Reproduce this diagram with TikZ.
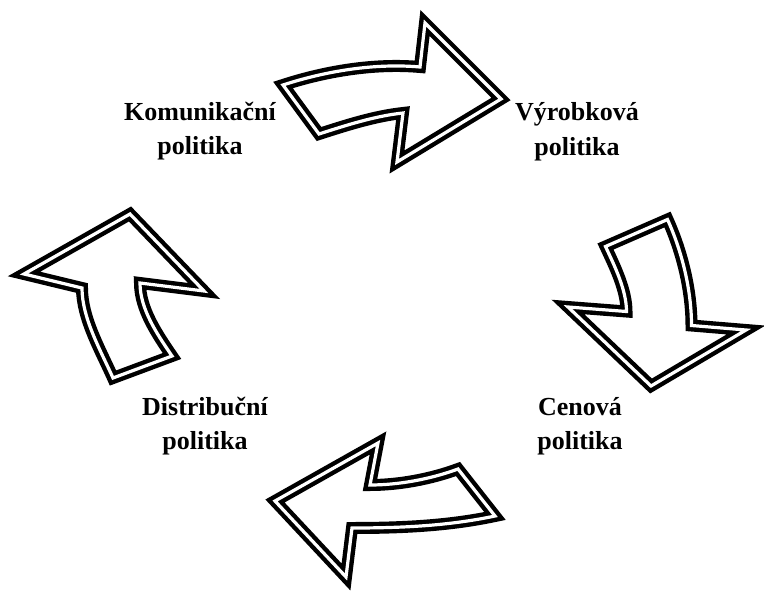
\documentclass[tikz,border=0pt]{standalone}
\usepackage{fontspec}
\setmainfont{Liberation Serif}
\usetikzlibrary{positioning}

\tikzset{
  oblast/.style={font=\bfseries\fontsize{19.5}{25.5}\selectfont, align=center, anchor=base, inner sep=0pt},
  sipka/.style={line width=3.3pt, double=white, double distance=2.4pt, line join=miter}
}

\begin{document}
\begin{tikzpicture}[x=0.75pt, y=-0.75pt]

      \useasboundingbox (0,0) rectangle (764,592);

      % arrow Komunikacni -> Vyrobkova
      \draw[sipka] (283,85) .. controls (326,71) and (375,63) .. (420,67) -- (425,23) -- (501,99)
        -- (397,162) -- (403,113) .. controls (375,116) and (347,125) .. (319,134) -- cycle;

      % arrow Vyrobkova -> Cenova
      \draw[sipka] (605.5,246.5) -- (667.5,219.5) .. controls (682,251.5) and (691.5,290) .. (691.5,325.5)
        -- (746,330) -- (651,386) -- (568,307) -- (626.5,311.5)
        .. controls (626.5,290) and (614.7,266.3) .. (605.5,246.5) -- cycle;

      % arrow Cenova -> Distribucni
      \draw[sipka] (275,501) -- (378,443) -- (370,485) .. controls (399,485) and (431,479) .. (458,469)
        -- (495,516) .. controls (448,526) and (400,528) .. (352,528) -- (346,577) -- cycle;

      % arrow Distribucni -> Komunikacni
      \draw[sipka] (130,214) -- (204,291) -- (140,283) .. controls (140,309) and (157,334) .. (172,356)
        -- (113,378) .. controls (100,349) and (82,318) .. (82,288) -- (24,274) -- cycle;

      \node[oblast] (kom) at (200,154) {Komunikační\\politika};
      \node[oblast] (vyr) at (577,155) {Výrobková\\politika};
      \node[oblast] (cen) at (580,449) {Cenová\\politika};
      \node[oblast] (dis) at (205,449) {Distribuční\\politika};

\end{tikzpicture}
\end{document}
